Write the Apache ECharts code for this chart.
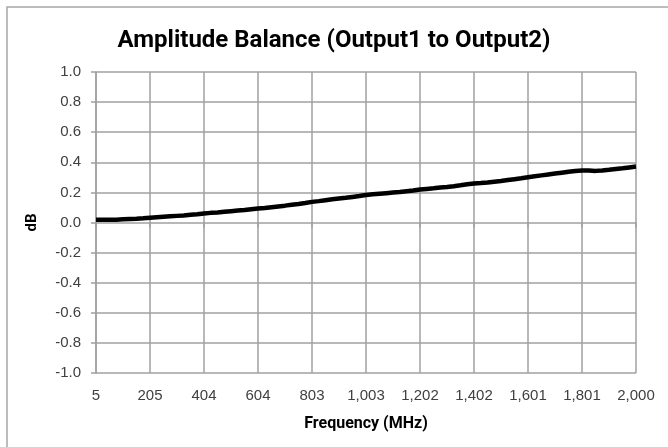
<!DOCTYPE html>
<html>
<head>
<meta charset="utf-8">
<script src="https://cdn.jsdelivr.net/npm/echarts@6/dist/echarts.min.js"></script>
<style>
html,body{margin:0;padding:0;background:#fff;}
#chart{width:668px;height:447px;}
</style>
</head>
<body>
<div id="chart"></div>
<script>
// Frequency sweep: 5 MHz to 2000 MHz, sampled points (MHz)
const freqStart = 5;
const freqStop = 2000;
const tickLabels = ['5','205','404','604','803','1,003','1,202','1,402','1,601','1,801','2,000'];

// Amplitude balance (dB)
const balanceDb = [
  0.018, 0.018, 0.019, 0.019, 0.021, 0.023, 0.025, 0.028, 0.032,
  0.035, 0.038, 0.041, 0.044, 0.047, 0.051, 0.055, 0.060,
  0.064, 0.067, 0.071, 0.075, 0.079, 0.083, 0.088, 0.093,
  0.097, 0.102, 0.107, 0.112, 0.118, 0.123, 0.129, 0.137,
  0.142, 0.148, 0.154, 0.159, 0.164, 0.170, 0.176, 0.183,
  0.187, 0.191, 0.195, 0.199, 0.203, 0.208, 0.213, 0.219,
  0.223, 0.227, 0.232, 0.236, 0.241, 0.247, 0.254, 0.259,
  0.262, 0.266, 0.271, 0.276, 0.282, 0.288, 0.294, 0.301,
  0.307, 0.313, 0.319, 0.325, 0.331, 0.337, 0.342, 0.345,
  0.345, 0.343, 0.346, 0.350, 0.355, 0.360, 0.366, 0.372
];

const n = balanceDb.length;
const categories = balanceDb.map((_, i) => freqStart + i * (freqStop - freqStart) / (n - 1));
const labelEvery = (n - 1) / (tickLabels.length - 1);

const chart = echarts.init(document.getElementById('chart'), null, {renderer: 'canvas'});
chart.setOption({
  animation: false,
  backgroundColor: '#ffffff',
  title: {
    text: 'Amplitude Balance (Output1 to Output2)',
    left: 'center',
    top: 24,
    textStyle: {fontFamily: 'Roboto', fontWeight: 'bold', fontSize: 24, color: '#000'}
  },
  graphic: [{
    type: 'rect',
    shape: {x: 7, y: 7, width: 700, height: 500},
    style: {fill: 'none', stroke: '#a6a6a6', lineWidth: 1.5},
    silent: true
  }],
  grid: {left: 96, right: 32, top: 72, bottom: 74, containLabel: false},
  xAxis: {
    type: 'category',
    data: categories,
    boundaryGap: false,
    name: 'Frequency (MHz)',
    nameLocation: 'middle',
    nameGap: 43,
    nameTextStyle: {fontFamily: 'Roboto', fontWeight: 'bold', fontSize: 16, color: '#000'},
    axisLine: {show: false},
    axisTick: {show: true, length: 5, interval: labelEvery - 1, lineStyle: {color: '#a0a0a0', width: 1.5}},
    axisLabel: {
      interval: labelEvery - 1,
      margin: 15,
      fontFamily: 'Liberation Sans', fontSize: 15, color: '#404040',
      formatter: (v, i) => tickLabels[Math.round(i / labelEvery)]
    },
    splitLine: {show: true, interval: labelEvery - 1, lineStyle: {color: '#a0a0a0', width: 1.5}}
  },
  yAxis: {
    type: 'value',
    min: -1,
    max: 1,
    interval: 0.2,
    name: 'dB',
    nameLocation: 'middle',
    nameGap: 56,
    nameRotate: 90,
    nameTextStyle: {fontFamily: 'Roboto', fontWeight: 'bold', fontSize: 15, color: '#000'},
    axisLine: {show: true, lineStyle: {color: '#a0a0a0', width: 1.5}},
    axisTick: {show: true, length: 5, lineStyle: {color: '#a0a0a0', width: 1.5}},
    axisLabel: {
      margin: 15,
      fontFamily: 'Liberation Sans', fontSize: 15, color: '#404040',
      formatter: v => v.toFixed(1)
    },
    splitLine: {show: true, lineStyle: {color: '#a0a0a0', width: 1.5}}
  },
  series: [{
    type: 'line',
    data: balanceDb,
    showSymbol: false,
    smooth: false,
    lineStyle: {color: '#000', width: 4.5},
    z: 5
  }]
});
</script>
</body>
</html>
